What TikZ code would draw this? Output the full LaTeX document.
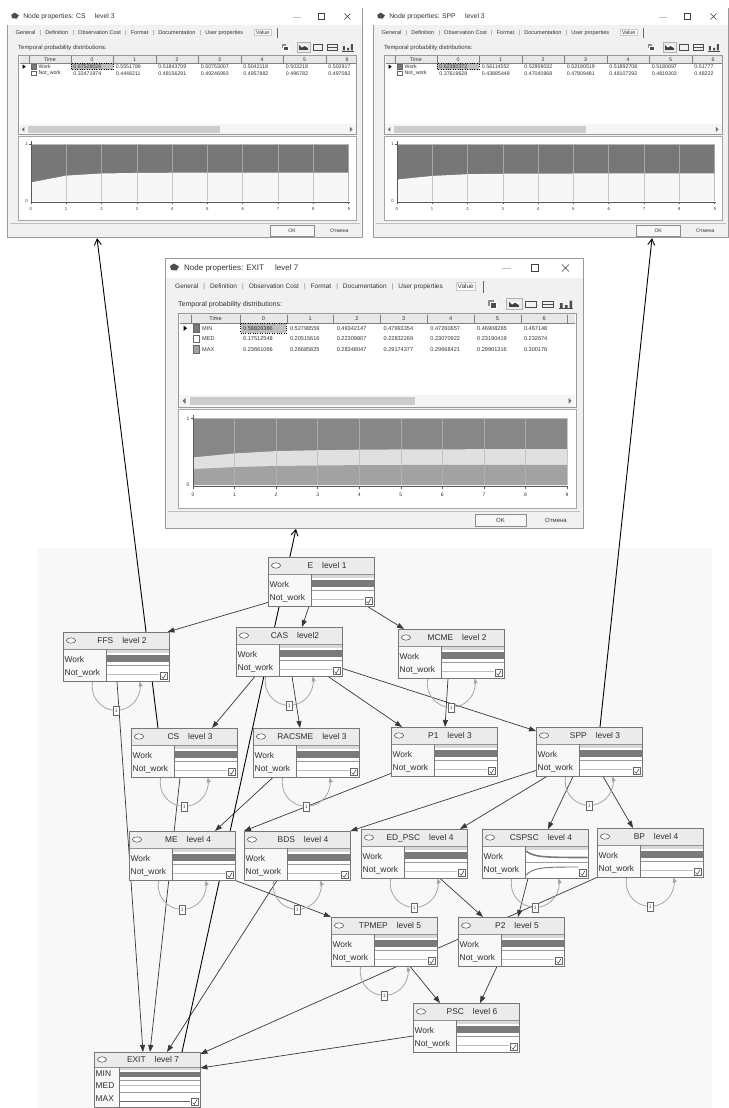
\documentclass[tikz,border=0pt]{standalone}
\usepackage{fontspec}
\setmainfont{Liberation Sans}
\usetikzlibrary{arrows.meta,calc}

\definecolor{winbg}{HTML}{F1F1F1}
\definecolor{winedge}{HTML}{9A9A9A}
\definecolor{hdrcell}{HTML}{E8E8E8}
\definecolor{nodehead}{HTML}{EBEBEB}
\definecolor{nodebody}{HTML}{F8F8F8}
\definecolor{nodeedge}{HTML}{777777}
\definecolor{linkcol}{HTML}{383838}
\definecolor{loopcol}{HTML}{A6A6A6}
\definecolor{bardark}{HTML}{7A7A7A}
\definecolor{netpanel}{HTML}{F8F8F8}
\definecolor{txt}{HTML}{2E2E2E}
\definecolor{workfill}{HTML}{777777}
\definecolor{minfill}{HTML}{878787}
\definecolor{medfill}{HTML}{E0E0E0}
\definecolor{maxfill}{HTML}{A2A2A2}

\newcommand{\setfs}[1]{\fontsize{#1}{#1}\selectfont}
\newcommand{\tabsep}{\hspace{5pt}{\color{black!55}|}\hspace{5pt}}

\pgfdeclarelayer{netbg}
\pgfdeclarelayer{links}
\pgfsetlayers{netbg,links,main}

\tikzset{
  bnbox/.style={draw=none, fill=white, minimum width=106pt, minimum height=49pt, inner sep=0pt, anchor=north west},
  exitbox/.style={bnbox, minimum height=55pt},
  netlink/.style={draw=linkcol, line width=0.7pt, -{Triangle[length=7pt,width=5pt]}},
  annot/.style={draw=black, line width=0.9pt, -{Straight Barb[length=6pt,width=7pt]}},
  tloop/.style={draw=loopcol, line width=0.8pt, -{Triangle[length=5pt,width=4pt]}},
  loopbox/.style={draw=black!60, fill=white, line width=0.5pt, minimum width=6pt, minimum height=9pt, inner sep=0pt, font=\setfs{5}, text=black!70},
  nodetext/.style={font=\setfs{8.4}, text=txt, inner sep=0pt},
  wintext/.style={inner sep=0pt, text=black!80},
  winframe/.style={draw=winedge, fill=winbg, line width=0.8pt, minimum width=418pt, minimum height=270pt, inner sep=0pt, anchor=north west},
  barchart/.pic={
    \fill[black!15] (43.5,18) rectangle (105.6,20.5);
    \fill[bardark] (43.5,22.5) rectangle (105.6,29.5);
    \draw[black!40, line width=0.5pt] (43.5,33) -- (105.6,33);
    \draw[black!25, line width=0.5pt] (43.5,42.5) -- (96,42.5);
  },
  curvechart/.pic={
    \fill[black!15] (43.5,18) rectangle (105.6,20.5);
    \draw[bardark, line width=1.6pt] (44,22) .. controls (52,28) and (60,28.5) .. (105.6,28.5);
    \draw[black!40, line width=0.5pt] (43.5,33) -- (105.6,33);
    \draw[black!55, line width=0.9pt] (44,46) .. controls (52,38.5) and (60,38) .. (96,38);
  },
}

% network node: name, x, y, title, level, mini chart
\newcommand{\bnnode}[6]{%
  \node[bnbox] (#1) at (#2,#3) {};
  \begin{scope}[shift={(#2,#3)}]
    \fill[nodehead] (0,0) rectangle (106,17);
    \fill[nodebody] (0,17) rectangle (43,49);
    \draw[nodeedge!80, line width=0.5pt] (0,17) -- (106,17);
    \draw[nodeedge, line width=0.6pt] (43,17) -- (43,49);
    \draw[black!75, fill=white, line width=0.5pt] (8,8.5) ellipse [x radius=4.6, y radius=2.7];
    \node[nodetext] at (59,8.8) {#4\hspace{9pt}#5};
    \node[nodetext, anchor=west] at (1.5,27.5) {Work};
    \node[nodetext, anchor=west] at (1.5,41) {Not\_work};
    \pic at (0,0) {#6};
    \draw[black!60, fill=white, line width=0.5pt] (97,40.5) rectangle (104,47.5);
    \draw[black!70, line width=0.6pt] (98.5,44.5) -- (100.3,46.3) -- (103,41.8);
    \draw[nodeedge, line width=0.8pt] (0,0) rectangle (106,49);
  \end{scope}
}

% temporal self-arc below a node
\newcommand{\tloopat}[1]{%
  \coordinate (#1-lc) at ([yshift=-5pt]#1.south);
  \draw[tloop] ($(#1-lc)+(195:24)$) arc[start angle=195, end angle=-12, radius=24];
  \node[loopbox] at ([yshift=-24pt]#1-lc) {1};
}

% properties dialog frame (local units, 418 x 270)
\newcommand{\winchrome}[3]{%
  \node[winframe] (#1) at (0,0) {};
  \fill[white] (0.5,0.5) rectangle (417.5,20);
  \fill[black!70] (5,8) -- (9,5.5) -- (14,8.5) -- (11.5,12.5) -- (6,12) -- cycle;
  \node[wintext, anchor=west, font=\setfs{8}] at (19,10.5) {Node properties: #2\hspace{11pt}#3};
  \draw[black!25, line width=0.6pt] (337,10.5) -- (346,10.5);
  \draw[black!75, line width=0.6pt] (366,6.5) rectangle (373,13.5);
  \draw[black!75, line width=0.6pt] (397,6.5) -- (404,13.5) (397,13.5) -- (404,6.5);
  \node[wintext, anchor=west, font=\setfs{6.5}] at (10,29)
    {General\tabsep Definition\tabsep Observation Cost\tabsep Format\tabsep Documentation\tabsep User properties};
  \node[wintext, anchor=west, font=\setfs{6.5}, draw=black!20, fill=white, inner sep=1.5pt] at (291,28.5) {Value};
  \draw[black!60, line width=0.5pt] (318,23) -- (318,35);
  \node[wintext, anchor=west, font=\setfs{7}] at (13,47) {Temporal probability distributions:};
  \fill[black!45] (323,42) rectangle (328.5,47.5);
  \draw[white, fill=black!70, line width=0.4pt] (325.5,44.5) rectangle (331,50);
  \draw[black!30, fill=black!8, line width=0.4pt] (341,40.5) rectangle (357,51.5);
  \fill[black!75] (344,43.5) rectangle (354,49);
  \fill[white] (344,43.5) -- (347,46.5) -- (350,44.5) -- (354,47) -- (354,43.5) -- cycle;
  \draw[black!70, line width=0.6pt] (360,43) rectangle (371,49.5);
  \draw[black!70, line width=0.6pt] (377,43) rectangle (388,49.5) (377,46.2) -- (388,46.2);
  \fill[black!70] (395,45) rectangle (397.5,50) (400,47) rectangle (402.5,50) (404.5,42.5) rectangle (407,50);
  \draw[black!70, line width=0.5pt] (394,50.3) -- (408,50.3);
  \draw[black!40, fill=white, line width=0.5pt] (13,55) rectangle (411,149);
  \fill[black!4] (14,137) rectangle (410,148.5);
  \fill[black!20] (25,138.5) rectangle (250,147);
  \fill[black!55] (20.5,139.8) -- (17.5,142.8) -- (20.5,145.8) -- cycle;
  \fill[black!55] (403.5,139.8) -- (406.5,142.8) -- (403.5,145.8) -- cycle;
  \draw[black!35, fill=white, line width=0.5pt] (13,151) rectangle (411,250);
  \draw[black!25, line width=0.5pt] (3,253) -- (415,253);
  \draw[black!45, fill=black!3, line width=0.5pt] (310,256) rectangle (361,268.5);
  \node[wintext, font=\setfs{6}] at (335.5,262.3) {OK};
  \node[wintext, font=\setfs{6}] at (391,262.3) {Отмена};
}

% table header: column width, font size
\newcommand{\tablehead}[2]{%
  \fill[hdrcell] (15,56) rectangle (410,65);
  \draw[black!50, line width=0.4pt] (15,65) -- (410,65);
  \draw[black!50, line width=0.4pt] (26,56.5) -- (26,65);
  \foreach \k in {0,...,7} \draw[black!50, line width=0.4pt] ({75+#1*\k},56.5) -- ({75+#1*\k},65);
  \node[wintext, font=\setfs{#2}] at (50.5,60.8) {Time};
  \foreach \k in {0,...,6} \node[wintext, font=\setfs{#2}] at ({75+#1*(\k+0.5)},60.8) {\k};
}

% table row: top, height, swatch colour, state, column width, values
\newcommand{\tablerow}[6]{%
  \draw[black!60, fill=#3, line width=0.4pt] (28,{#1+1.5}) rectangle (34,{#1+#2-1.5});
  \node[wintext, anchor=west, font=\setfs{\valfs}] at (37,{#1+#2/2}) {#4};
  \foreach \v [count=\k from 0] in {#6}
    \node[wintext, anchor=west, font=\setfs{\valfs}] at ({78+#5*\k},{#1+#2/2}) {\v};
}
\newcommand{\valfs}{5.6}

% chart grid and axes
\newcommand{\winaxes}{%
  \foreach \t in {1,...,9}
    \draw[black!28, opacity=0.75, line width=0.5pt] ({28+41.556*\t},160) -- ({28+41.556*\t},227);
  \draw[black!28, line width=0.5pt] (28,160) -- (402,160);
  \draw[black!65, line width=0.5pt] (28,157) -- (28,228) -- (403,228);
  \draw[black!65, line width=0.5pt] (26,160) -- (28,160);
  \foreach \t in {0,...,9} {
    \draw[black!65, line width=0.5pt] ({28+41.556*\t},228) -- ({28+41.556*\t},231);
    \node[wintext, font=\setfs{5}] at ({28+41.556*\t},236.5) {\t};
  }
  \node[wintext, font=\setfs{5}] at (23,160.5) {1};
  \node[wintext, font=\setfs{5}] at (23,227) {0};
}

\begin{document}
\begin{tikzpicture}[x=1pt,y=-1pt]
\useasboundingbox (0,0) rectangle (728,1108);
\begin{pgfonlayer}{netbg}
  \fill[white] (0,0) rectangle (728,1108);
  \fill[netpanel] (38,548) rectangle (712,1108);
\end{pgfonlayer}

% ---------- dialog: CS ----------
\begin{scope}[shift={(7,8)}, scale=0.85, transform shape]
  \winchrome{winCS}{CS}{level 3}
  \begin{scope}
    \renewcommand{\valfs}{6.2}
    \clip (14,55.5) rectangle (410.5,136.5);
    \tablehead{50}{6.2}
    \fill[black!25] (75.5,65.5) rectangle (124.5,72.5);
    \draw[black, dotted, line width=0.4pt] (75.5,65.5) rectangle (124.5,72.5);
    \tablerow{65}{8}{bardark}{Work}{50}{0.67528026,0.5551789,0.51843709,0.50753007,0.5042118,0.503218,0.502917}
    \tablerow{73}{8}{white}{Not\_work}{50}{0.32471974,0.4448211,0.48156291,0.49246993,0.4957882,0.496782,0.497082}
    \fill[black] (18.5,66.5) -- (22,69) -- (18.5,71.5) -- cycle;
  \end{scope}
  \fill[workfill] (28,160) rectangle (402,227);
  \fill[white!97!black] (28,227) -- (28,205.2) -- (69.6,197.2) -- (111.1,194.7) -- (152.7,194.0) -- (194.2,193.8) -- (235.8,193.7) -- (277.3,193.7) -- (318.9,193.7) -- (360.4,193.7) -- (402,193.7) -- (402,227) -- cycle;
  \winaxes
\end{scope}

% ---------- dialog: SPP ----------
\begin{scope}[shift={(373,8)}, scale=0.85, transform shape]
  \winchrome{winSPP}{SPP}{level 3}
  \begin{scope}
    \renewcommand{\valfs}{6.2}
    \clip (14,55.5) rectangle (410.5,136.5);
    \tablehead{50}{6.2}
    \fill[black!25] (75.5,65.5) rectangle (124.5,72.5);
    \draw[black, dotted, line width=0.4pt] (75.5,65.5) rectangle (124.5,72.5);
    \tablerow{65}{8}{bardark}{Work}{50}{0.62380372,0.56114552,0.52959032,0.52190519,0.51892708,0.5180697,0.51777}
    \tablerow{73}{8}{white}{Not\_work}{50}{0.37619628,0.43885448,0.47040968,0.47809481,0.48107292,0.4819303,0.48222}
    \fill[black] (18.5,66.5) -- (22,69) -- (18.5,71.5) -- cycle;
  \end{scope}
  \fill[workfill] (28,160) rectangle (402,227);
  \fill[white!97!black] (28,227) -- (28,201.8) -- (69.6,197.6) -- (111.1,195.5) -- (152.7,195.0) -- (194.2,194.8) -- (235.8,194.7) -- (277.3,194.7) -- (318.9,194.7) -- (360.4,194.7) -- (402,194.7) -- (402,227) -- cycle;
  \winaxes
\end{scope}

% ---------- dialog: EXIT ----------
\begin{scope}[shift={(165,258)}, transform shape]
  \winchrome{winEXIT}{EXIT}{level 7}
  \begin{scope}
    \clip (14,55.5) rectangle (410.5,136.5);
    \tablehead{46.8}{5.6}
    \fill[black!25] (75.5,65.5) rectangle (121.3,75);
    \draw[black, dotted, line width=0.4pt] (75.5,65.5) rectangle (121.3,75);
    \tablerow{65}{10.5}{bardark}{MIN}{46.8}{0.58826386,0.52798559,0.49342147,0.47993354,0.47260657,0.46908265,0.467148}
    \tablerow{75.5}{10.5}{white}{MED}{46.8}{0.17512548,0.20515616,0.22309807,0.22832269,0.23070922,0.23190419,0.232674}
    \tablerow{86}{10.5}{maxfill}{MAX}{46.8}{0.23661066,0.26685825,0.28348047,0.29174377,0.29668421,0.29901316,0.300176}
    \fill[black] (18.5,67.5) -- (22,70.2) -- (18.5,73) -- cycle;
  \end{scope}
  \fill[minfill] (28,160) rectangle (402,227);
  \fill[medfill] (28,227) -- (28,199.4) -- (69.6,195.4) -- (111.1,193.1) -- (152.7,192.2) -- (194.2,191.7) -- (235.8,191.4) -- (277.3,191.3) -- (318.9,191.2) -- (360.4,191.2) -- (402,191.2) -- (402,227) -- cycle;
  \fill[maxfill] (28,227) -- (28,211.1) -- (69.6,209.1) -- (111.1,208.0) -- (152.7,207.5) -- (194.2,207.1) -- (235.8,207.0) -- (277.3,206.9) -- (318.9,206.8) -- (360.4,206.8) -- (402,206.8) -- (402,227) -- cycle;
  \winaxes
\end{scope}

% ---------- network nodes ----------
\bnnode{E}{268}{557}{E}{level 1}{barchart}
\bnnode{FFS}{63}{632}{FFS}{level 2}{barchart}
\bnnode{CAS}{236}{627}{CAS}{level2}{barchart}
\bnnode{MCME}{398}{629}{MCME}{level 2}{barchart}
\bnnode{CS}{131}{728}{CS}{level 3}{barchart}
\bnnode{RACSME}{253}{728}{RACSME}{level 3}{barchart}
\bnnode{P1}{391}{727}{P1}{level 3}{barchart}
\bnnode{SPP}{536}{727}{SPP}{level 3}{barchart}
\bnnode{ME}{129}{831}{ME}{level 4}{barchart}
\bnnode{BDS}{244}{831}{BDS}{level 4}{barchart}
\bnnode{EDPSC}{361}{829}{ED\_PSC}{level 4}{barchart}
\bnnode{CSPSC}{482}{829}{CSPSC}{level 4}{curvechart}
\bnnode{BP}{597}{828}{BP}{level 4}{barchart}
\bnnode{TPMEP}{331}{917}{TPMEP}{level 5}{barchart}
\bnnode{P2}{458}{917}{P2}{level 5}{barchart}
\bnnode{PSC}{413}{1003}{PSC}{level 6}{barchart}

% output node with three states
\node[exitbox] (EXIT) at (94,1052) {};
\begin{scope}[shift={(94,1052)}]
  \fill[nodehead] (0,0) rectangle (106,15);
  \fill[nodebody] (0,15) rectangle (25,55);
  \draw[nodeedge!80, line width=0.5pt] (0,15) -- (106,15);
  \draw[nodeedge, line width=0.6pt] (25,15) -- (25,55);
  \draw[black!75, fill=white, line width=0.5pt] (8,7.5) ellipse [x radius=4.6, y radius=2.7];
  \node[nodetext] at (59,7.8) {EXIT\hspace{9pt}level 7};
  \node[nodetext, anchor=west] at (1.5,21.5) {MIN};
  \node[nodetext, anchor=west] at (1.5,34) {MED};
  \node[nodetext, anchor=west] at (1.5,47) {MAX};
  \fill[black!15] (25.5,16) rectangle (105.6,18);
  \fill[bardark] (25.5,19.5) rectangle (105.6,25);
  \draw[black!40, line width=0.5pt] (25.5,28) -- (105.6,28);
  \draw[black!25, line width=0.5pt] (25.5,33.5) -- (105.6,33.5);
  \draw[black!40, line width=0.5pt] (25.5,40.5) -- (105.6,40.5);
  \draw[black!60, line width=1pt] (25.5,49.5) -- (96,49.5);
  \draw[black!60, fill=white, line width=0.5pt] (97,46.5) rectangle (104,53.5);
  \draw[black!70, line width=0.6pt] (98.5,50.5) -- (100.3,52.3) -- (103,47.8);
  \draw[nodeedge, line width=0.8pt] (0,0) rectangle (106,55);
\end{scope}

% ---------- arcs ----------
\begin{pgfonlayer}{links}
  \draw[netlink] ([yshift=4pt]E.south west) -- ([xshift=-2pt]FFS.north east);
  \draw[netlink] ([xshift=41pt]E.south west) -- ([xshift=66pt]CAS.north west);
  \draw[netlink] ([xshift=-7pt]E.south east) -- ([xshift=6pt]MCME.north west);
  \draw[netlink] ([xshift=19pt]CAS.south west) -- ([xshift=81pt]CS.north west);
  \draw[netlink] ([xshift=56pt]CAS.south west) -- ([xshift=47pt]RACSME.north west);
  \draw[netlink] ([xshift=92pt]CAS.south west) -- ([xshift=11pt]P1.north west);
  \draw[netlink] ([yshift=8pt]CAS.south east) -- ([yshift=-4pt]SPP.north west);
  \draw[netlink] ([xshift=50pt]MCME.south west) -- ([xshift=54pt]P1.north west);
  \draw[netlink] ([xshift=54pt]FFS.south west) -- ([xshift=49pt]EXIT.north west);
  \draw[netlink] ([xshift=49pt]CS.south west) -- ([xshift=56pt]EXIT.north west);
  \draw[netlink] ([xshift=20pt]RACSME.south west) -- ([xshift=86pt]ME.north west);
  \draw[netlink] ([yshift=3pt]P1.south west) -- (BDS.north west);
  \draw[netlink] ([yshift=6pt]SPP.south west) -- (BDS.north east);
  \draw[netlink] ([xshift=11pt]SPP.south west) -- ([xshift=99pt]EDPSC.north west);
  \draw[netlink] ([xshift=37pt]SPP.south west) -- ([xshift=66pt]CSPSC.north west);
  \draw[netlink] ([xshift=67pt]SPP.south west) -- ([xshift=36pt]BP.north west);
  \draw[netlink] ([xshift=33pt]BDS.south west) -- ([xshift=73pt]EXIT.north west);
  \draw[netlink] (ME.south east) -- (TPMEP.north west);
  \draw[netlink] ([xshift=79pt]EDPSC.south west) -- ([xshift=25pt]P2.north west);
  \draw[netlink] ([xshift=46pt]CSPSC.south west) -- ([xshift=60pt]P2.north west);
  \draw[netlink] (BP.south west) -- ([yshift=-2pt]EXIT.north east);
  \draw[netlink] ([xshift=79pt]TPMEP.south west) -- ([xshift=27pt]PSC.north west);
  \draw[netlink] ([xshift=39pt]P2.south west) -- ([xshift=67pt]PSC.north west);
  \draw[netlink] ([yshift=-33pt]PSC.north west) -- ([yshift=-16pt]EXIT.north east);
  % pointers to the dialogs
  \draw[annot] ([xshift=88pt]EXIT.north west) -- ([xshift=131pt]winEXIT.south west);
  \draw[annot] ([xshift=27pt]CS.north west) -- ([xshift=90pt]winCS.south west);
  \draw[annot] ([xshift=64pt]SPP.north west) -- ([xshift=279pt]winSPP.south west);
  % temporal self-arcs
  \tloopat{FFS}
  \tloopat{CAS}
  \tloopat{MCME}
  \tloopat{CS}
  \tloopat{RACSME}
  \tloopat{SPP}
  \tloopat{ME}
  \tloopat{BDS}
  \tloopat{EDPSC}
  \tloopat{CSPSC}
  \tloopat{BP}
  \tloopat{TPMEP}
\end{pgfonlayer}
\end{tikzpicture}
\end{document}
